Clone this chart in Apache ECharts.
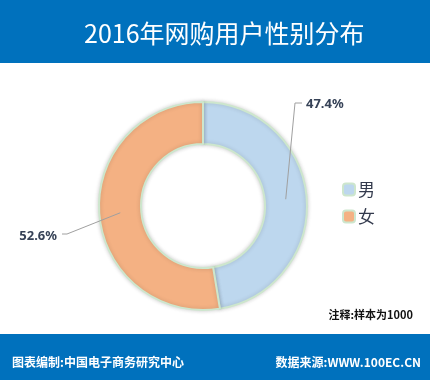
<!DOCTYPE html>
<html>
<head>
<meta charset="utf-8">
<script src="https://cdn.jsdelivr.net/npm/echarts@6/dist/echarts.min.js"></script>
<style>
html,body{margin:0;padding:0;background:#fff;}
#c{width:430px;height:380px;}
</style>
</head>
<body>
<div id="c"></div>
<script>
// ---- data ----
var categories = ['男', '女'];
var values = [47.4, 52.6];
var titleText = '2016年网购用户性别分布';
var noteText = '注释:样本为1000';
var footerLeft = '图表编制:中国电子商务研究中心';
var footerRight = '数据来源:WWW.100EC.CN';

// ---- styles ----
var colors = ['#bdd7ee', '#f4b183'];
var bandColor = '#0071bd';
var labelAnchors = [
  {x: 306, y: 104, align: 'left', bend: [295, 103], end: [302, 103]},
  {x: 57, y: 236, align: 'right', bend: [67, 234], end: [62, 234]}
];

var pieData = categories.map(function (c, i) {
  return {name: c, value: values[i], itemStyle: {color: colors[i]}};
});
var labelData = categories.map(function (c, i) {
  return {name: c, value: values[i]};
});

var chart = echarts.init(document.getElementById('c'), null, {renderer: 'canvas'});
chart.setOption({
  animation: false,
  backgroundColor: '#ffffff',
  graphic: [
    {type: 'rect', left: 0, top: 0, z: -1, shape: {width: 430, height: 63}, style: {fill: bandColor}},
    {type: 'rect', left: 0, top: 334, z: -1, shape: {width: 430, height: 46}, style: {fill: bandColor}}
  ],
  title: [
    {text: titleText, left: 79, top: 16, textStyle: {color: '#ffffff', fontSize: 25, fontWeight: 'normal', fontFamily: 'Noto Sans CJK SC'}},
    {text: noteText, right: 12, top: 304, textStyle: {color: '#111111', fontSize: 11, fontWeight: 'bold', fontFamily: 'Noto Sans CJK SC'}},
    {text: footerLeft, left: 7, top: 351, textStyle: {color: '#ffffff', fontSize: 12, fontWeight: 'bold', fontFamily: 'Noto Sans CJK SC'}},
    {text: footerRight, right: 4, top: 351, textStyle: {color: '#ffffff', fontSize: 12, fontWeight: 'bold', fontFamily: 'Noto Sans CJK SC'}}
  ],
  legend: {
    data: categories,
    orient: 'vertical',
    left: 337,
    top: 176,
    itemWidth: 12,
    itemHeight: 12,
    itemGap: 10,
    selectedMode: false,
    textStyle: {fontSize: 17, color: '#333a4d', lineHeight: 16, fontFamily: 'Noto Sans CJK SC', padding: [0, 0, 0, -2]}
  },
  series: [
    {
      type: 'pie',
      z: 2,
      center: [203, 206],
      radius: [62, 104],
      startAngle: 90,
      clockwise: true,
      silent: true,
      label: {show: false},
      labelLine: {show: false},
      itemStyle: {borderColor: '#cde6cd', borderWidth: 2, shadowBlur: 4, shadowColor: 'rgba(0,0,0,0.18)'},
      data: pieData
    },
    {
      type: 'pie',
      z: 5,
      center: [203, 206],
      radius: [0, 83],
      startAngle: 90,
      clockwise: true,
      silent: true,
      itemStyle: {color: 'rgba(0,0,0,0)'},
      label: {
        show: true,
        position: 'outside',
        formatter: function (p) { return p.value.toFixed(1) + '%'; },
        fontSize: 13,
        fontWeight: 'bold',
        color: '#364257',
        fontFamily: 'Noto Sans'
      },
      labelLine: {show: true, length: 10, length2: 10, lineStyle: {color: '#a0a0a0', width: 1}},
      labelLayout: function (params) {
        var a = labelAnchors[params.dataIndex];
        var p0 = params.labelLinePoints ? params.labelLinePoints[0] : a.bend;
        return {
          x: a.x, y: a.y, align: a.align, verticalAlign: 'middle',
          labelLinePoints: [p0, a.bend, a.end]
        };
      },
      data: labelData
    }
  ]
});
</script>
</body>
</html>
